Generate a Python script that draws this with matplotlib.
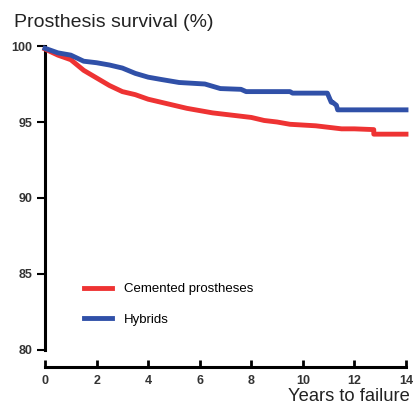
import matplotlib
matplotlib.use('Agg')
import matplotlib.pyplot as plt

plt.rcParams['font.family'] = ['Liberation Sans', 'DejaVu Sans']

# survival curves (repeated years = vertical drops)
cem_years = [0, 0.5, 1.0, 1.5, 2.0, 2.5, 3.0, 3.5, 4.0, 4.5, 5.0, 5.5, 6.0, 6.5, 7.0,
             7.5, 8.0, 8.5, 9.0, 9.5, 10.0, 10.5, 11.0, 11.5, 12.0, 12.75, 12.75, 14.0]
cem_surv = [99.8, 99.4, 99.1, 98.4, 97.9, 97.4, 97.0, 96.8, 96.5, 96.3, 96.1, 95.9, 95.75,
            95.6, 95.5, 95.4, 95.3, 95.1, 95.0, 94.85, 94.8, 94.75, 94.65, 94.55, 94.55,
            94.5, 94.2, 94.2]

hyb_years = [0, 0.5, 1.0, 1.5, 2.0, 2.5, 3.0, 3.5, 4.0, 4.5, 5.2, 6.2, 6.8, 7.6, 7.8, 9.5,
             9.6, 10.95, 11.1, 11.15, 11.3, 11.35, 14.0]
hyb_surv = [99.85, 99.55, 99.4, 99.0, 98.9, 98.75, 98.55, 98.2, 97.95, 97.8, 97.6, 97.5,
            97.2, 97.15, 97.0, 97.0, 96.9, 96.9, 96.3, 96.3, 96.1, 95.8, 95.8]

labels = ['Cemented prostheses', 'Hybrids']
colors = ['#ee3333', '#3050a8']

fig = plt.figure(figsize=(4.14, 4.09), dpi=100)
ax = fig.add_axes([0.1087, 0.1443, 0.872, 0.7432])

ax.plot(cem_years, cem_surv, color=colors[0], lw=3.5, label=labels[0],
        clip_on=False, zorder=3)
ax.plot(hyb_years, hyb_surv, color=colors[1], lw=3.5, label=labels[1],
        clip_on=False, zorder=3)

ax.set_xlim(0, 14)
ax.set_ylim(80, 100)
ax.set_xticks(range(0, 15, 2))
ax.set_yticks(range(80, 101, 5))

for s in ['top', 'right']:
    ax.spines[s].set_visible(False)
ax.spines['left'].set_linewidth(2.2)
ax.spines['bottom'].set_linewidth(2.2)
ax.spines['bottom'].set_position(('outward', 12))
ax.tick_params(axis='y', direction='out', length=6, width=1.5, labelsize=9, pad=3)
ax.tick_params(axis='x', direction='in', length=5, width=2, labelsize=9, pad=6)
for lab in ax.get_xticklabels() + ax.get_yticklabels():
    lab.set_fontweight('bold')
    lab.set_color('#333333')

leg = ax.legend(loc='lower left', bbox_to_anchor=(0.075, 0.04), frameon=False,
                fontsize=9.5, handlelength=2.1, handletextpad=0.9, labelspacing=1.4)

fig.text(0.033, 0.935, 'Prosthesis survival (%)', fontsize=14, color='#222222')
fig.text(0.99, 0.02, 'Years to failure', fontsize=13.2, color='#222222', ha='right')

fig.savefig('out.png', dpi=100)
